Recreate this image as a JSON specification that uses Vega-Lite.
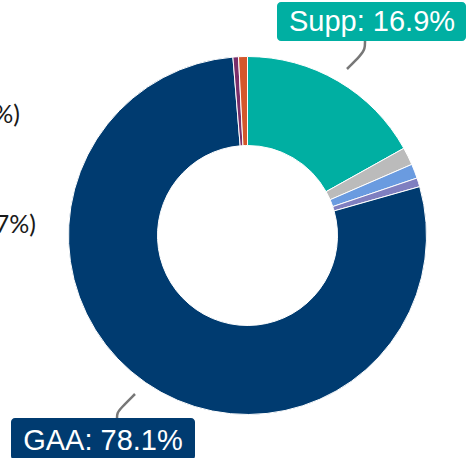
{
  "$schema": "https://vega.github.io/schema/vega-lite/v6.json",
  "width": 495,
  "height": 471,
  "autosize": "none",
  "padding": 0,
  "background": "white",
  "config": {"view": {"stroke": null}},
  "datasets": {
    "slices": [
      {"cat": "Supp", "value": 16.9, "ord": 1},
      {"cat": "Other A", "value": 1.6, "ord": 2},
      {"cat": "Other B", "value": 1.3, "ord": 3},
      {"cat": "Other C", "value": 0.8, "ord": 4},
      {"cat": "GAA", "value": 78.1, "ord": 5},
      {"cat": "Other D", "value": 0.5, "ord": 6},
      {"cat": "Other E", "value": 0.8, "ord": 7}
    ],
    "boxes": [
      {"cat": "Supp", "label": "Supp: 16.9%", "x0": 277, "x1": 466, "y0": 2, "y1": 41, "cx": 372, "cy": 22},
      {"cat": "GAA", "label": "GAA: 78.1%", "x0": 11, "x1": 195, "y0": 418, "y1": 460, "cx": 103, "cy": 441}
    ],
    "leaders": [
      {"id": "Supp", "seq": 1, "px": 365, "py": 41},
      {"id": "Supp", "seq": 2, "px": 365, "py": 49},
      {"id": "Supp", "seq": 3, "px": 361, "py": 55},
      {"id": "Supp", "seq": 4, "px": 347, "py": 69},
      {"id": "GAA", "seq": 1, "px": 135, "py": 394},
      {"id": "GAA", "seq": 2, "px": 121, "py": 408},
      {"id": "GAA", "seq": 3, "px": 117, "py": 413},
      {"id": "GAA", "seq": 4, "px": 117, "py": 419}
    ],
    "side": [
      {"label": "Other (0.5%)", "px": 20, "py": 115},
      {"label": "Other (0.7%)", "px": 36, "py": 225}
    ]
  },
  "layer": [
    {
      "data": {"name": "slices"},
      "mark": {"type": "arc", "outerRadius": 179, "innerRadius": 90, "stroke": "white", "strokeWidth": 1},
      "encoding": {
        "theta": {"field": "value", "type": "quantitative", "stack": true},
        "order": {"field": "ord", "type": "quantitative"},
        "color": {
          "field": "cat", "type": "nominal", "legend": null,
          "scale": {
            "domain": ["Supp", "Other A", "Other B", "Other C", "GAA", "Other D", "Other E"],
            "range": ["#00AFA2", "#BBBBBB", "#6A9BE0", "#7F7FC0", "#003B70", "#7A2E6A", "#D4572B"]
          }
        }
      }
    },
    {
      "data": {"name": "leaders"},
      "mark": {"type": "line", "interpolate": "basis", "stroke": "#777777", "strokeWidth": 2.5},
      "encoding": {
        "x": {"field": "px", "type": "quantitative", "scale": {"domain": [0, 495]}, "axis": null},
        "y": {"field": "py", "type": "quantitative", "scale": {"domain": [0, 471], "reverse": true}, "axis": null},
        "detail": {"field": "id"},
        "order": {"field": "seq", "type": "quantitative"}
      }
    },
    {
      "data": {"name": "boxes"},
      "mark": {"type": "rect", "cornerRadius": 4},
      "encoding": {
        "x": {"field": "x0", "type": "quantitative", "scale": {"domain": [0, 495]}, "axis": null},
        "x2": {"field": "x1"},
        "y": {"field": "y0", "type": "quantitative", "scale": {"domain": [0, 471], "reverse": true}, "axis": null},
        "y2": {"field": "y1"},
        "color": {"field": "cat", "type": "nominal", "legend": null}
      }
    },
    {
      "data": {"name": "boxes"},
      "mark": {"type": "text", "font": "Liberation Sans", "fontSize": 29, "color": "white", "align": "center", "baseline": "middle"},
      "encoding": {
        "x": {"field": "cx", "type": "quantitative", "scale": {"domain": [0, 495]}, "axis": null},
        "y": {"field": "cy", "type": "quantitative", "scale": {"domain": [0, 471], "reverse": true}, "axis": null},
        "text": {"field": "label"}
      }
    },
    {
      "data": {"name": "side"},
      "mark": {"type": "text", "font": "Lato", "fontSize": 25, "color": "#1a1a1a", "align": "right", "baseline": "middle"},
      "encoding": {
        "x": {"field": "px", "type": "quantitative", "scale": {"domain": [0, 495]}, "axis": null},
        "y": {"field": "py", "type": "quantitative", "scale": {"domain": [0, 471], "reverse": true}, "axis": null},
        "text": {"field": "label"}
      }
    }
  ]
}
